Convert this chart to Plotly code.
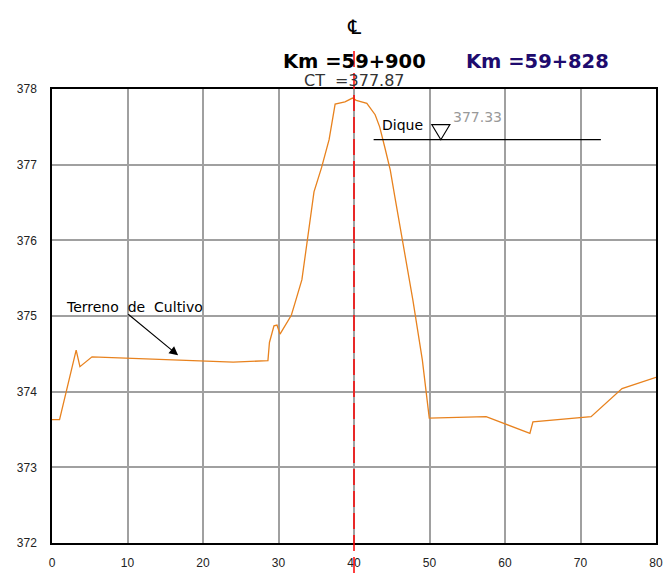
import plotly.graph_objects as go

# perfil del terreno (estacion en m, cota en m)
station = [0, 1.0, 3.2, 3.7, 5.3, 24.0, 28.6, 28.8, 29.4, 29.8, 30.2, 31.7, 32.3, 33.1,
           34.7, 35.7, 36.7, 37.5, 38.8, 39.8, 40.3, 41.7, 42.8, 43.4, 44.1, 44.8, 45.4,
           46.5, 47.8, 49.05, 49.6, 49.97, 57.5, 63.3, 63.7, 71.4, 75.5, 80]
elev = [373.63, 373.63, 374.55, 374.33, 374.46, 374.39, 374.41, 374.65, 374.87, 374.88,
        374.76, 375.01, 375.21, 375.48, 376.64, 376.96, 377.33, 377.80, 377.83, 377.88,
        377.85, 377.81, 377.66, 377.50, 377.22, 376.93, 376.58, 375.96, 375.21, 374.42,
        373.98, 373.65, 373.67, 373.45, 373.60, 373.67, 374.04, 374.19]

x_ticks = [0, 10, 20, 30, 40, 50, 60, 70, 80]
y_ticks = [372, 373, 374, 375, 376, 377, 378]

eje = 40            # centre line
ct = 377.87
dique_level = 377.33
dique_x = [42.6, 72.7]
dique_mark = 51.5

cad_font = "DejaVu Sans"

fig = go.Figure()
fig.add_trace(go.Scatter(x=station, y=elev, mode="lines",
                         line=dict(color="#E8821E", width=1.3),
                         hoverinfo="skip", showlegend=False))

# dique level line
fig.add_shape(type="line", x0=dique_x[0], x1=dique_x[1], y0=dique_level, y1=dique_level,
              xref="x", yref="y", line=dict(color="black", width=1.2))
# water-level style triangle, sized in pixels, tip on the line
fig.add_shape(type="path", xref="x", yref="y", xsizemode="pixel", ysizemode="pixel",
              xanchor=dique_mark, yanchor=dique_level,
              path="M -9,15 L 9,15 L 0,0 Z", line=dict(color="black", width=1.2))

# centre line
fig.add_shape(type="line", x0=eje, x1=eje, y0=-0.066, y1=1.0925, xref="x", yref="paper",
              line=dict(color="#FF0000", width=1.5, dash="16px,6px"))

head = dict(xref="x", yref="paper", showarrow=False, xanchor="center", yanchor="middle")
fig.add_annotation(x=eje, y=1.136, text="\u2104",
                   font=dict(family=cad_font, size=20, color="black"), **head)
fig.add_annotation(x=eje, y=1.06, text="<b>Km =59+900</b>",
                   font=dict(family=cad_font, size=19.5, color="black"), **head)
fig.add_annotation(x=64.3, y=1.06, text="<b>Km =59+828</b>",
                   font=dict(family=cad_font, size=19.5, color="#1E0B6E"), **head)
fig.add_annotation(x=40.1, y=1.019, text="CT\u00a0 =%.2f" % ct,
                   font=dict(family=cad_font, size=16, color="#333333"), **head)

fig.add_annotation(x=46.4, y=377.52, text="Dique", showarrow=False, yanchor="middle",
                   font=dict(family=cad_font, size=14, color="black"))
fig.add_annotation(x=56.4, y=377.63, text="%.2f" % dique_level, showarrow=False,
                   yanchor="middle", font=dict(family=cad_font, size=14, color="#999999"))

fig.add_annotation(x=10.9, y=375.12, text="Terreno\u00a0 de\u00a0 Cultivo", showarrow=False,
                   yanchor="middle", font=dict(family=cad_font, size=14, color="black"))
fig.add_annotation(x=16.7, y=374.48, ax=9.9, ay=375.04, axref="x", ayref="y",
                   text="", showarrow=True, arrowhead=2, arrowsize=1.6, arrowwidth=1.1,
                   arrowcolor="black")

fig.update_xaxes(range=[0, 80], tickvals=x_ticks, showgrid=True, gridcolor="#A0A0A0",
                 gridwidth=1.5, zeroline=False, showline=True, linecolor="black",
                 linewidth=1.5, mirror=True, ticks="", ticklabelstandoff=8,
                 automargin=False,
                 tickfont=dict(family="Liberation Sans", size=12, color="#222222"))
fig.update_yaxes(range=[372, 378], tickvals=y_ticks, showgrid=True, gridcolor="#A0A0A0",
                 gridwidth=1.5, zeroline=False, showline=True, linecolor="black",
                 linewidth=1.5, mirror=True, ticks="", ticklabelstandoff=11,
                 automargin=False,
                 tickfont=dict(family="Liberation Sans", size=12, color="#222222"))

fig.update_layout(width=663, height=573, margin=dict(l=52, r=7, t=89, b=30),
                  plot_bgcolor="white", paper_bgcolor="white", showlegend=False)

# drop the browser's default body margin so the figure sits at the page corner
fig.write_html("out.html", config={"displayModeBar": False},
               post_script="document.body.style.margin='0';document.body.style.overflow='hidden';")
